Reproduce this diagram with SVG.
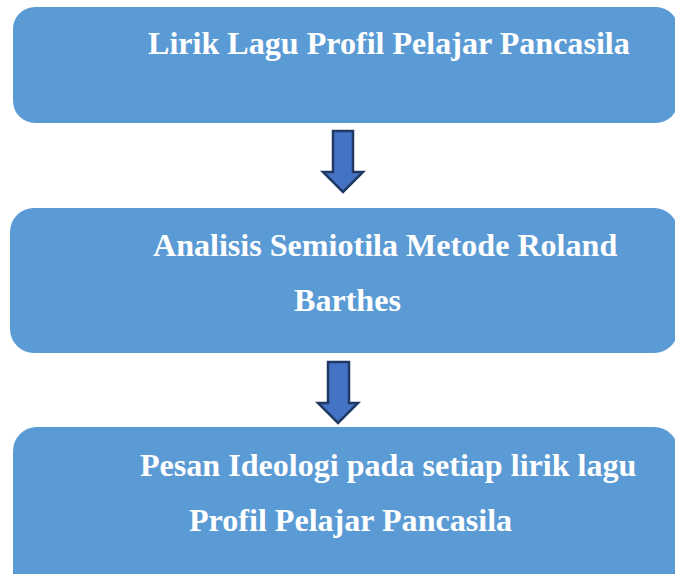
<svg xmlns="http://www.w3.org/2000/svg" width="675" height="574" viewBox="0 0 675 574">
<style>
.box{fill:#5B9BD5;}
.t{font-family:"Liberation Serif","Times New Roman",serif;font-weight:bold;font-size:32.1px;fill:#FFFFFF;}
.arr{fill:#4472C4;stroke:#1F3864;stroke-width:2.5;stroke-linejoin:miter;}
</style>
<rect width="675" height="574" fill="#FFFFFF"/>
<g id="node1">
<rect class="box" x="13" y="7" width="665" height="116" rx="22" ry="22"/>
<text class="t" x="148" y="54">Lirik Lagu Profil Pelajar Pancasila</text>
</g>
<g id="node2">
<rect class="box" x="10" y="208" width="668" height="145" rx="24" ry="24"/>
<text class="t" x="153" y="256">Analisis Semiotila Metode Roland</text>
<text class="t" x="294" y="311">Barthes</text>
</g>
<g id="node3">
<rect class="box" x="13" y="427" width="665" height="170" rx="24" ry="24"/>
<text class="t" x="140" y="476">Pesan Ideologi pada setiap lirik lagu</text>
<text class="t" x="189" y="531">Profil Pelajar Pancasila</text>
</g>
<g id="connectors">
<path class="arr" d="M333,131 H353 V172 H363 L343,192 L323,172 H333 Z"/>
<path class="arr" d="M328,362 H349 V403 H358 L338,423 L318,403 H328 Z"/>
</g>
</svg>
